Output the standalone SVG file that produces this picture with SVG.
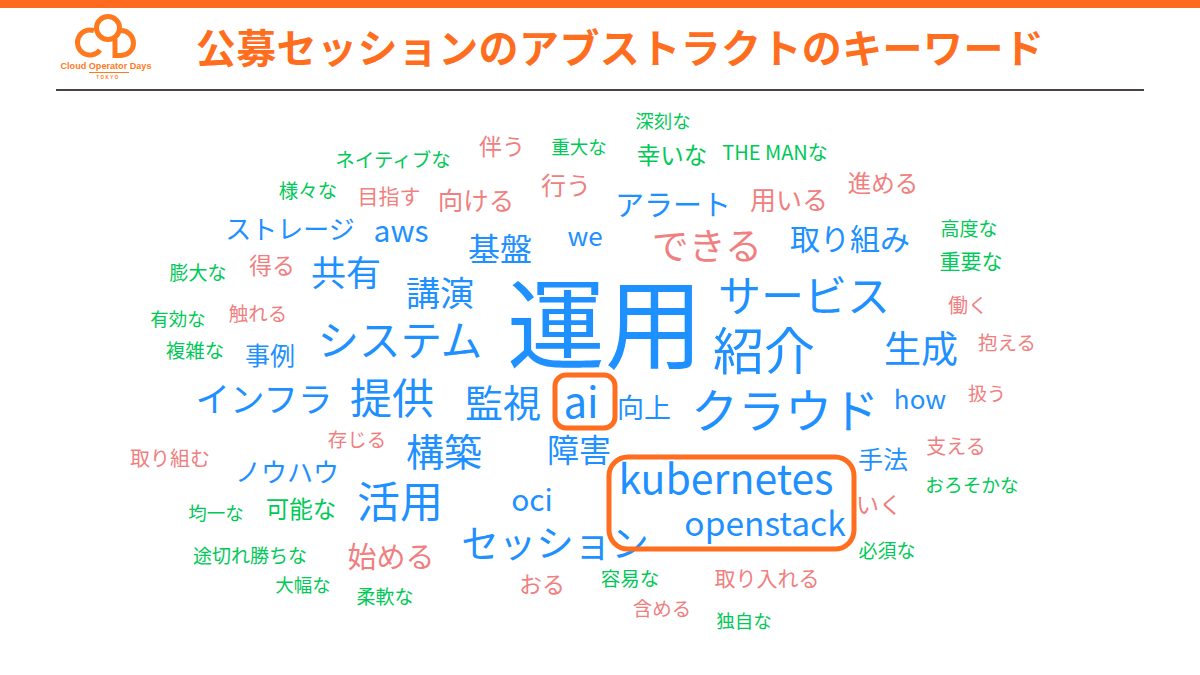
<svg xmlns="http://www.w3.org/2000/svg" width="1200" height="675" viewBox="0 0 1200 675">
<style>
text{font-family:"Noto Sans CJK JP","Noto Sans",sans-serif;text-anchor:middle;dominant-baseline:central}
.b{fill:#1e90ff}.r{fill:#f08080}.g{fill:#00c957}
.box{fill:none;stroke:#ff6e1e;stroke-width:5}
.logo{fill:none;stroke:#ff7a1e;stroke-width:5}
.lt{font-family:"Liberation Sans",sans-serif;font-weight:700;fill:#ff7a1e}
</style>
<rect width="1200" height="675" fill="#fff"/>
<rect width="1200" height="8" fill="#ff6a1f"/>
<rect x="56" y="89" width="1088" height="2" fill="#4a4240"/>
<g id="logo">
<path class="logo" d="M100 50 A12.500 12.500 0 1 1 94 30.700"/>
<circle class="logo" cx="108" cy="28" r="11.500"/>
<path class="logo" d="M115 39 V55.500 H121 A12.500 12.500 0 0 0 121 30.500"/>
<text class="lt" x="106" y="66" font-size="9.100">Cloud Operator Days</text>
<rect x="89" y="72" width="40" height="1" fill="#ff7a1e"/>
<text class="lt" x="108" y="77" font-size="4.500" letter-spacing="1.500">TOKYO</text>
</g>
<text id="title" x="620" y="46" font-size="40" font-weight="700" fill="#ff6e1e" letter-spacing="0.400">公募セッションのアブストラクトのキーワード</text>
<g id="words" transform="translate(0,-1.500)">
<text class="b" x="605" y="319" font-size="98">運用</text>
<text class="b" x="804" y="294" font-size="43">サービス</text>
<text class="b" x="764" y="349" font-size="51">紹介</text>
<text class="b" x="785" y="409" font-size="47">クラウド</text>
<text class="b" x="921" y="348" font-size="37">生成</text>
<text class="r" x="707" y="245" font-size="37">できる</text>
<text class="b" x="850" y="238" font-size="30">取り組み</text>
<text class="b" x="673" y="204" font-size="29">アラート</text>
<text class="b" x="400" y="339" font-size="41.500">システム</text>
<text class="b" x="264" y="398" font-size="34.500">インフラ</text>
<text class="b" x="392" y="397" font-size="42">提供</text>
<text class="b" x="503" y="402" font-size="38">監視</text>
<text class="b" x="581" y="401" font-size="42">ai</text>
<text class="b" x="644" y="408" font-size="27">向上</text>
<text class="b" x="920" y="399" font-size="26">how</text>
<text class="b" x="444" y="451" font-size="38">構築</text>
<text class="b" x="579" y="449" font-size="32">障害</text>
<text class="b" x="883" y="459" font-size="25">手法</text>
<text class="b" x="287" y="472" font-size="26">ノウハウ</text>
<text class="b" x="400" y="500" font-size="43">活用</text>
<text class="b" x="532" y="499" font-size="30">oci</text>
<text class="b" x="726" y="477" font-size="41">kubernetes</text>
<text class="b" x="765" y="523" font-size="33.500">openstack</text>
<text class="b" x="555" y="542" font-size="37.500">セッション</text>
<text class="b" x="290" y="229" font-size="26">ストレージ</text>
<text class="b" x="401" y="230" font-size="30">aws</text>
<text class="b" x="500" y="248" font-size="32">基盤</text>
<text class="b" x="585" y="236" font-size="26">we</text>
<text class="b" x="346" y="272" font-size="35">共有</text>
<text class="b" x="440" y="293" font-size="34">講演</text>
<text class="b" x="270" y="355" font-size="25">事例</text>
<text class="r" x="502" y="146" font-size="23">伴う</text>
<text class="r" x="566" y="185" font-size="25">行う</text>
<text class="r" x="476" y="200" font-size="25.500">向ける</text>
<text class="r" x="389" y="196" font-size="21">目指す</text>
<text class="r" x="789" y="200" font-size="26">用いる</text>
<text class="r" x="883" y="183" font-size="23.500">進める</text>
<text class="r" x="272" y="265" font-size="23">得る</text>
<text class="r" x="258" y="314" font-size="19.500">触れる</text>
<text class="r" x="968" y="306" font-size="20">働く</text>
<text class="r" x="1007" y="343" font-size="19.500">抱える</text>
<text class="r" x="987" y="394" font-size="19">扱う</text>
<text class="r" x="357" y="440" font-size="19.500">存じる</text>
<text class="r" x="956" y="447" font-size="20">支える</text>
<text class="r" x="170" y="459" font-size="20">取り組む</text>
<text class="r" x="879" y="504" font-size="23">いく</text>
<text class="r" x="391" y="556" font-size="29">始める</text>
<text class="r" x="542" y="584" font-size="23">おる</text>
<text class="r" x="767" y="578" font-size="21">取り入れる</text>
<text class="r" x="662" y="609" font-size="19.500">含める</text>
<text class="g" x="663" y="121" font-size="18.500">深刻な</text>
<text class="g" x="579" y="147" font-size="18.500">重大な</text>
<text class="g" x="672" y="155" font-size="23.500">幸いな</text>
<text class="g" x="775" y="153" font-size="20">THE MANな</text>
<text class="g" x="393" y="160" font-size="19.500">ネイティブな</text>
<text class="g" x="308" y="191" font-size="19.500">様々な</text>
<text class="g" x="969" y="229" font-size="19">高度な</text>
<text class="g" x="971" y="261" font-size="21">重要な</text>
<text class="g" x="198" y="273" font-size="19">膨大な</text>
<text class="g" x="178" y="319" font-size="18.500">有効な</text>
<text class="g" x="195" y="351" font-size="19.500">複雑な</text>
<text class="g" x="972" y="485" font-size="18.700">おろそかな</text>
<text class="g" x="301" y="509" font-size="23.500">可能な</text>
<text class="g" x="216" y="513" font-size="18.500">均一な</text>
<text class="g" x="250" y="556" font-size="19">途切れ勝ちな</text>
<text class="g" x="303" y="585" font-size="18.500">大幅な</text>
<text class="g" x="385" y="597" font-size="19">柔軟な</text>
<text class="g" x="630" y="579" font-size="19.500">容易な</text>
<text class="g" x="887" y="551" font-size="19">必須な</text>
<text class="g" x="744" y="621" font-size="18.500">独自な</text>
</g>
<g id="highlights">
<rect class="box" x="555" y="375" width="60" height="53" rx="11"/>
<rect class="box" x="609" y="457" width="245" height="92" rx="19"/>
</g>
</svg>
